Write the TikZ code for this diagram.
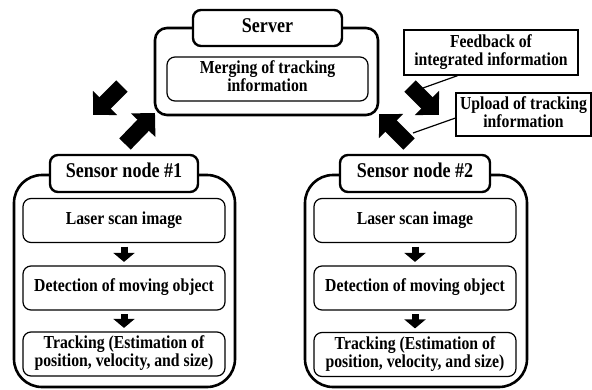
\documentclass[tikz,border=0pt]{standalone}
\usepackage{fontspec}
\usepackage{graphicx}
\setmainfont{Liberation Serif}
\usetikzlibrary{arrows.meta,calc}
\newcommand{\sqtext}[1]{\scalebox{0.86}[1]{\begin{tabular}{@{}c@{}}#1\end{tabular}}}
\begin{document}
\begin{tikzpicture}[x=1pt,y=-1pt,
  outerbox/.style={draw,line width=2.6pt,rounded corners=#1,inner sep=0pt},
  titlebox/.style={draw,fill=white,line width=2.4pt,rounded corners=8pt,inner sep=0pt,
    minimum width=148pt,minimum height=37pt,font=\fontsize{21}{20}\selectfont\bfseries},
  innerbox/.style={draw,line width=1.2pt,rounded corners=8pt,inner sep=0pt,align=center,
    minimum width=202pt,minimum height=44pt,font=\fontsize{18.3}{17.5}\selectfont\bfseries},
  labelbox/.style={draw,line width=1.2pt,inner sep=0pt,align=center,
    font=\fontsize{18.3}{17.5}\selectfont\bfseries},
  smallarrow/.style={line width=7pt,-{Triangle[width=21pt,length=9pt]},shorten <=3.5pt,shorten >=3.5pt},
  bigarrow/.style={line width=16pt,-{Triangle[width=33pt,length=17pt]}},
  leader/.style={line width=1.2pt}]
\useasboundingbox (0,0) rectangle (592,389);
% Server
\node[outerbox=12pt,minimum width=223pt,minimum height=87pt] (srv) at (266.5,71.5) {};
\node[titlebox,minimum width=149pt,minimum height=36pt] (srvt) at (267.5,28) {\sqtext{Server}};
\node[innerbox,minimum width=201pt,minimum height=44pt] (merge) at (267.5,79) {\sqtext{Merging of tracking\\information}};
% Sensor node 1
\node[outerbox=28pt,minimum width=221pt,minimum height=212pt] (s1) at (124.5,281) {};
\node[titlebox] (s1t) at (124,173.5) {\sqtext{Sensor node \#1}};
\node[innerbox] (l1) at (124,220.5) {\sqtext{Laser scan image}};
\node[innerbox] (d1) at (124,288) {\sqtext{Detection of moving object}};
\node[innerbox] (t1) at (124,354) {\sqtext{Tracking (Estimation of\\position, velocity, and size)}};
\draw[smallarrow] (l1.south) -- (d1.north);
\draw[smallarrow] (d1.south) -- (t1.north);
% Sensor node 2
\node[outerbox=28pt,minimum width=222pt,minimum height=212pt] (s2) at (416,281) {};
\node[titlebox,minimum width=150pt] (s2t) at (415,173.5) {\sqtext{Sensor node \#2}};
\node[innerbox] (l2) at (415,220.5) {\sqtext{Laser scan image}};
\node[innerbox] (d2) at (415,288) {\sqtext{Detection of moving object}};
\node[innerbox] (t2) at (415,354.5) {\sqtext{Tracking (Estimation of\\position, velocity, and size)}};
\draw[smallarrow] (l2.south) -- (d2.north);
\draw[smallarrow] (d2.south) -- (t2.north);
% Big arrows
\coordinate (a1s) at (122,86);  \coordinate (a1e) at (93,115);
\coordinate (a2s) at (125,144); \coordinate (a2e) at (155,113);
\coordinate (a3s) at (410,86);  \coordinate (a3e) at (439,115);
\coordinate (a4s) at (409,144); \coordinate (a4e) at (379,114);
\draw[bigarrow] (a1s) -- (a1e);
\draw[bigarrow] (a2s) -- (a2e);
\draw[bigarrow] (a3s) -- (a3e);
\draw[bigarrow] (a4s) -- (a4e);
% Labels
\node[labelbox,minimum width=174pt,minimum height=45pt] (fb) at (491,52.5) {\sqtext{Feedback of\\integrated information}};
\node[labelbox,minimum width=135pt,minimum height=43pt] (up) at (523.5,114.5) {\sqtext{Upload of tracking\\information}};
\coordinate (fbend) at (423,88);
\coordinate (upend) at (413,133);
\draw[leader] ($(fb.south west)!0.31!(fb.south east)$) -- (fbend);
\draw[leader] ($(up.south west)!0.42!(up.north west)$) -- (upend);
\end{tikzpicture}
\end{document}
